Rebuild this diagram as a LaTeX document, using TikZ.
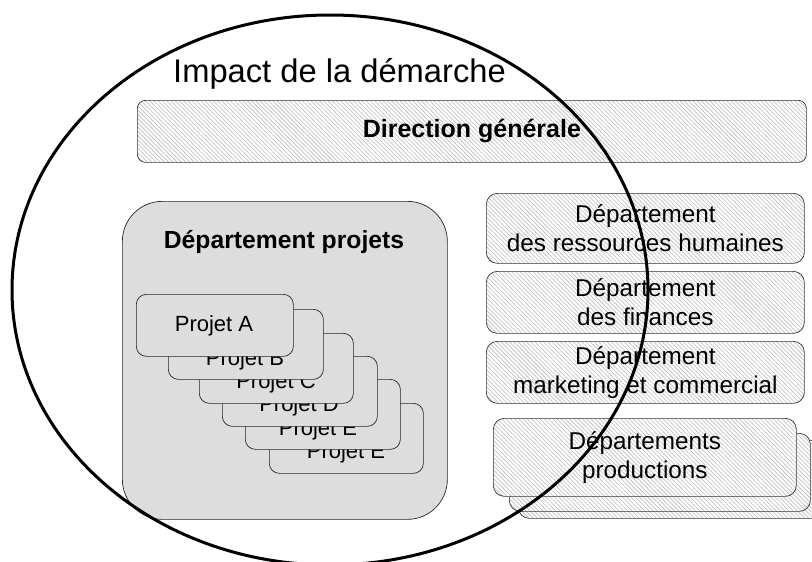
\documentclass[tikz,border=0pt]{standalone}
\usepackage{fontspec}
\setmainfont{Liberation Sans}
\usetikzlibrary{patterns.meta}
\definecolor{projfill}{HTML}{DDDDDD}
\definecolor{hatchgray}{HTML}{C6C6C6}
\begin{document}
\begin{tikzpicture}[x=1pt,y=-1pt,
  hatchbox/.style={draw=black!80, line width=0.7pt, rounded corners=11pt,
    preaction={fill=white},
    pattern={Lines[angle=-45,distance=3pt,line width=0.75pt]}, pattern color=hatchgray,
    inner sep=0pt, anchor=north west, align=center,
    font=\fontsize{24.3}{28.5}\selectfont},
  pbox/.style={draw=black!85, line width=0.7pt, fill=projfill, rounded corners=10pt,
    inner sep=0pt, anchor=north west, minimum width=155pt, minimum height=70pt},
  ptext/.style={font=\fontsize{22}{26}\selectfont, inner sep=0pt}]
\clip (0,0) rectangle (812,562);
% Direction generale
\node[hatchbox, rounded corners=8pt, minimum width=669pt, minimum height=62pt,
  font=\bfseries\fontsize{25}{30}\selectfont] (dg) at (137,100) {Direction générale};
% right departments
\node[hatchbox, minimum width=318pt, minimum height=70pt] (hr) at (486,193)
  {Département\\des ressources humaines};
\node[hatchbox, minimum width=318pt, minimum height=62pt] (fin) at (486,271)
  {Département\\des finances};
\node[hatchbox, minimum width=318pt, minimum height=62pt] (mkt) at (486,341)
  {Département\\marketing et commercial};
\node[hatchbox, minimum width=320pt, minimum height=78pt] (prodc) at (518,440) {};
\node[hatchbox, minimum width=301pt, minimum height=78pt] (prodb) at (509,433) {};
\node[hatchbox, minimum width=303pt, minimum height=78pt] (proda) at (493,418)
  {Départements\\productions};
% projects department
\node[draw=black!85, line width=0.7pt, fill=projfill, rounded corners=40pt,
  anchor=north west, minimum width=325pt, minimum height=318pt, inner sep=0pt] (dp) at (122,201) {};
\node[font=\bfseries\fontsize{24.7}{29}\selectfont, inner sep=0pt] (dpt) at (284,242) {Département projets};
% project stack
\node[pbox, minimum width=154pt] (pe2) at (269,403) {};
\node[ptext] (tpe2) at (346,453) {Projet E};
\node[pbox] (pe1) at (245,379) {};
\node[ptext] (tpe1) at (318,430) {Projet E};
\node[pbox] (pd) at (222,356) {};
\node[ptext] (tpd) at (299,406) {Projet D};
\node[pbox, minimum width=154pt] (pc) at (199,333) {};
\node[ptext] (tpc) at (276,383) {Projet C};
\node[pbox] (pb) at (168,309) {};
\node[ptext] (tpb) at (245,360) {Projet B};
\node[pbox, minimum width=157pt, minimum height=62pt] (pa) at (136,294) {};
\node[ptext] (tpa) at (214,326) {Projet A};
% title
\node[font=\fontsize{32.7}{38}\selectfont, anchor=base west, inner sep=0pt] (title) at (173,82) {Impact de la démarche};
% impact ellipse
\draw[line width=3pt] (330,290) ellipse [x radius=318pt, y radius=275pt];
\end{tikzpicture}
\end{document}
